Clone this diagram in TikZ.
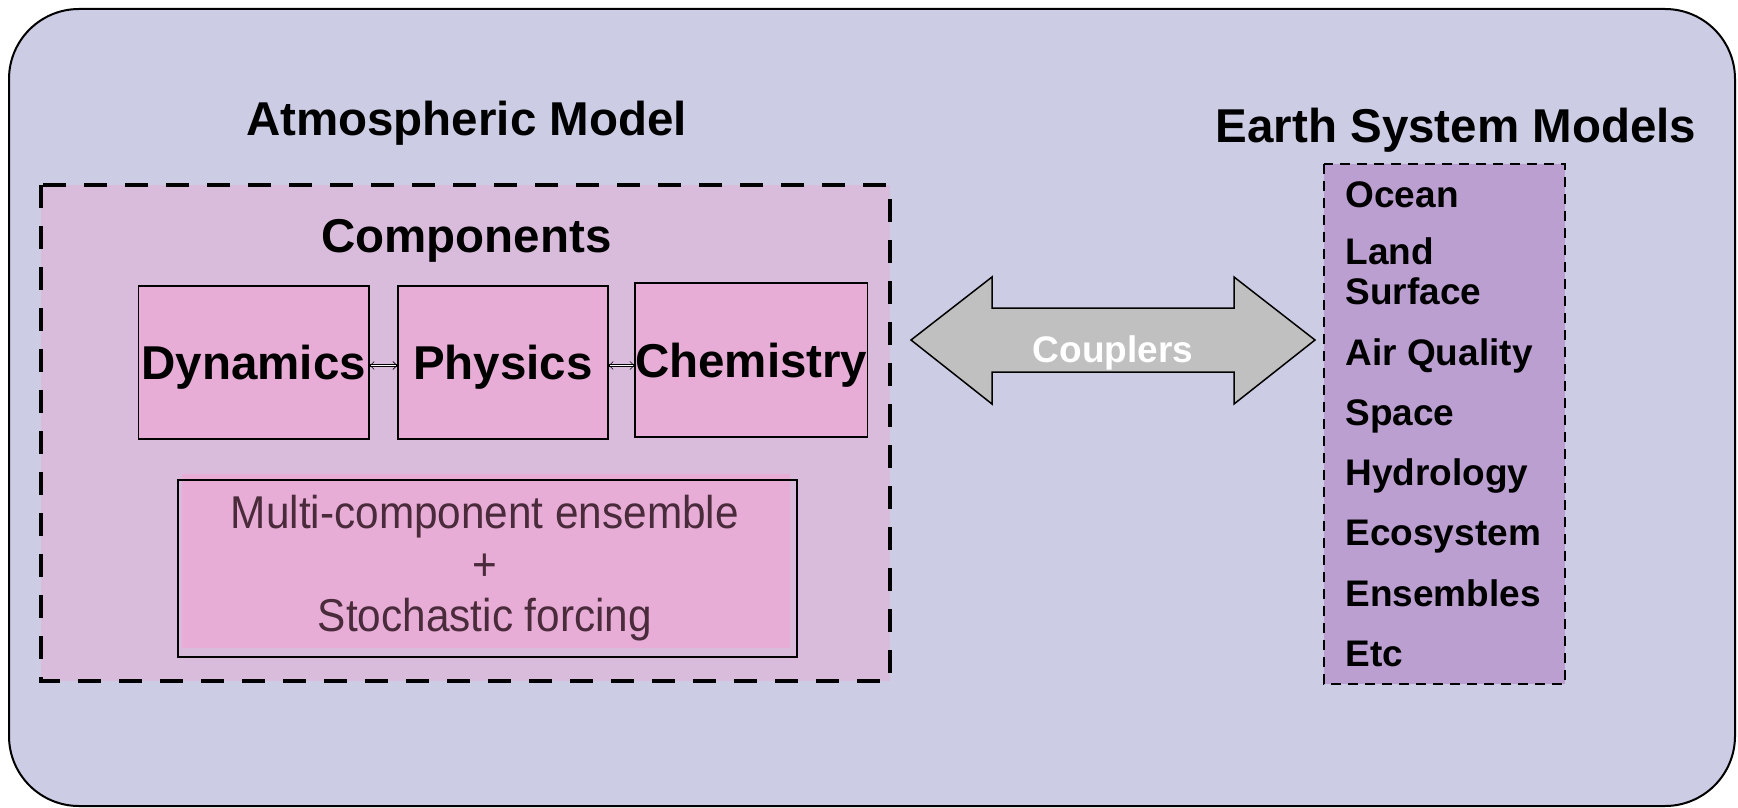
\documentclass[tikz,border=0pt]{standalone}
\usepackage{fontspec}
\setmainfont{Liberation Sans}
\newfontfamily\narrowsans[FakeStretch=0.92]{Liberation Sans}
\usetikzlibrary{arrows.meta}
\definecolor{bgcol}{RGB}{204,204,229}
\definecolor{atmcol}{RGB}{217,188,220}
\definecolor{compcol}{RGB}{232,173,214}
\definecolor{esmcol}{RGB}{187,159,208}
\definecolor{arrcol}{RGB}{192,192,192}
\definecolor{multitext}{RGB}{74,43,59}
\tikzset{
  titletext/.style={anchor=base, font=\fontsize{47.5}{55}\selectfont\bfseries},
  compbox/.style={draw, line width=1.5, fill=compcol, inner sep=0pt,
    text height=34, text depth=0pt, font=\fontsize{47.5}{55}\selectfont\bfseries},
  itemtext/.style={anchor=base west, font=\fontsize{37}{40}\selectfont\bfseries, align=left},
  multitxt/.style={anchor=base, text=multitext, font=\fontsize{46}{50}\narrowsans},
  smallarrow/.style={line width=0.6pt, double=white, double distance=1.6pt,
    {Straight Barb[length=4pt,width=8pt]}-{Straight Barb[length=4pt,width=8pt]}},
}
\begin{document}
\begin{tikzpicture}[x=1pt,y=-1pt]
\useasboundingbox (0,0) rectangle (1738,808);
% outer panel
\draw[line width=2, fill=bgcol, rounded corners=70] (9,9) rectangle (1735,806);
% atmospheric model dashed box
\draw[line width=4.5, dash pattern=on 23 off 18, fill=atmcol] (41,185) rectangle (890,681);
\node[titletext] (atmtitle) at (466.5,135) {Atmospheric Model};
\node[titletext] (comptitle) at (466.5,252) {Components};
% component boxes
\node[compbox, minimum width=230.5, minimum height=153] (dyn) at (253.75,362.5) {Dynamics};
\node[compbox, minimum width=210, minimum height=153] (phy) at (503,362.5) {Physics};
\node[compbox, minimum width=230.5, minimum height=154] (chem) at (751.25,360) {Chemistry};
\draw[smallarrow] ([yshift=-3]dyn.east) -- ([yshift=-3]phy.west);
\draw[smallarrow] ([yshift=-3]phy.east) -- ([yshift=-3]phy.east -| chem.west);
% multi-component box
\fill[compcol] (182,474) rectangle (790,648);
\draw[line width=1.5] (178,480) rectangle (797,657);
\node[multitxt] (multi1) at (485,528) {Multi-component ensemble};
\node[anchor=center, text=multitext, font=\fontsize{46}{50}\narrowsans] (plus) at (485,567) {+};
\node[multitxt] (multi2) at (485,631) {Stochastic forcing};
% couplers arrow
\draw[line width=1.5, fill=arrcol, line join=miter]
  (911,340) -- (992,277) -- (992,308) -- (1234,308) -- (1234,277) -- (1315,340)
  -- (1234,404) -- (1234,372) -- (992,372) -- (992,404) -- cycle;
\node[anchor=base, text=white, font=\fontsize{37}{40}\selectfont\bfseries] (coupl) at (1113,362) {Couplers};
% earth system models
\node[titletext] (esmtitle) at (1456,142) {Earth System Models};
\draw[line width=2, dash pattern=on 10 off 7, fill=esmcol] (1324,164) rectangle (1565,684);
\node[itemtext] (i1) at (1342,207) {Ocean};
\node[itemtext] (i2a) at (1342,264) {Land};
\node[itemtext] (i2b) at (1342,304) {Surface};
\node[itemtext] (i3) at (1342,365) {Air Quality};
\node[itemtext] (i4) at (1342,425) {Space};
\node[itemtext] (i5) at (1342,485) {Hydrology};
\node[itemtext] (i6) at (1342,545) {Ecosystem};
\node[itemtext] (i7) at (1342,606) {Ensembles};
\node[itemtext] (i8) at (1342,666) {Etc};
\end{tikzpicture}
\end{document}
